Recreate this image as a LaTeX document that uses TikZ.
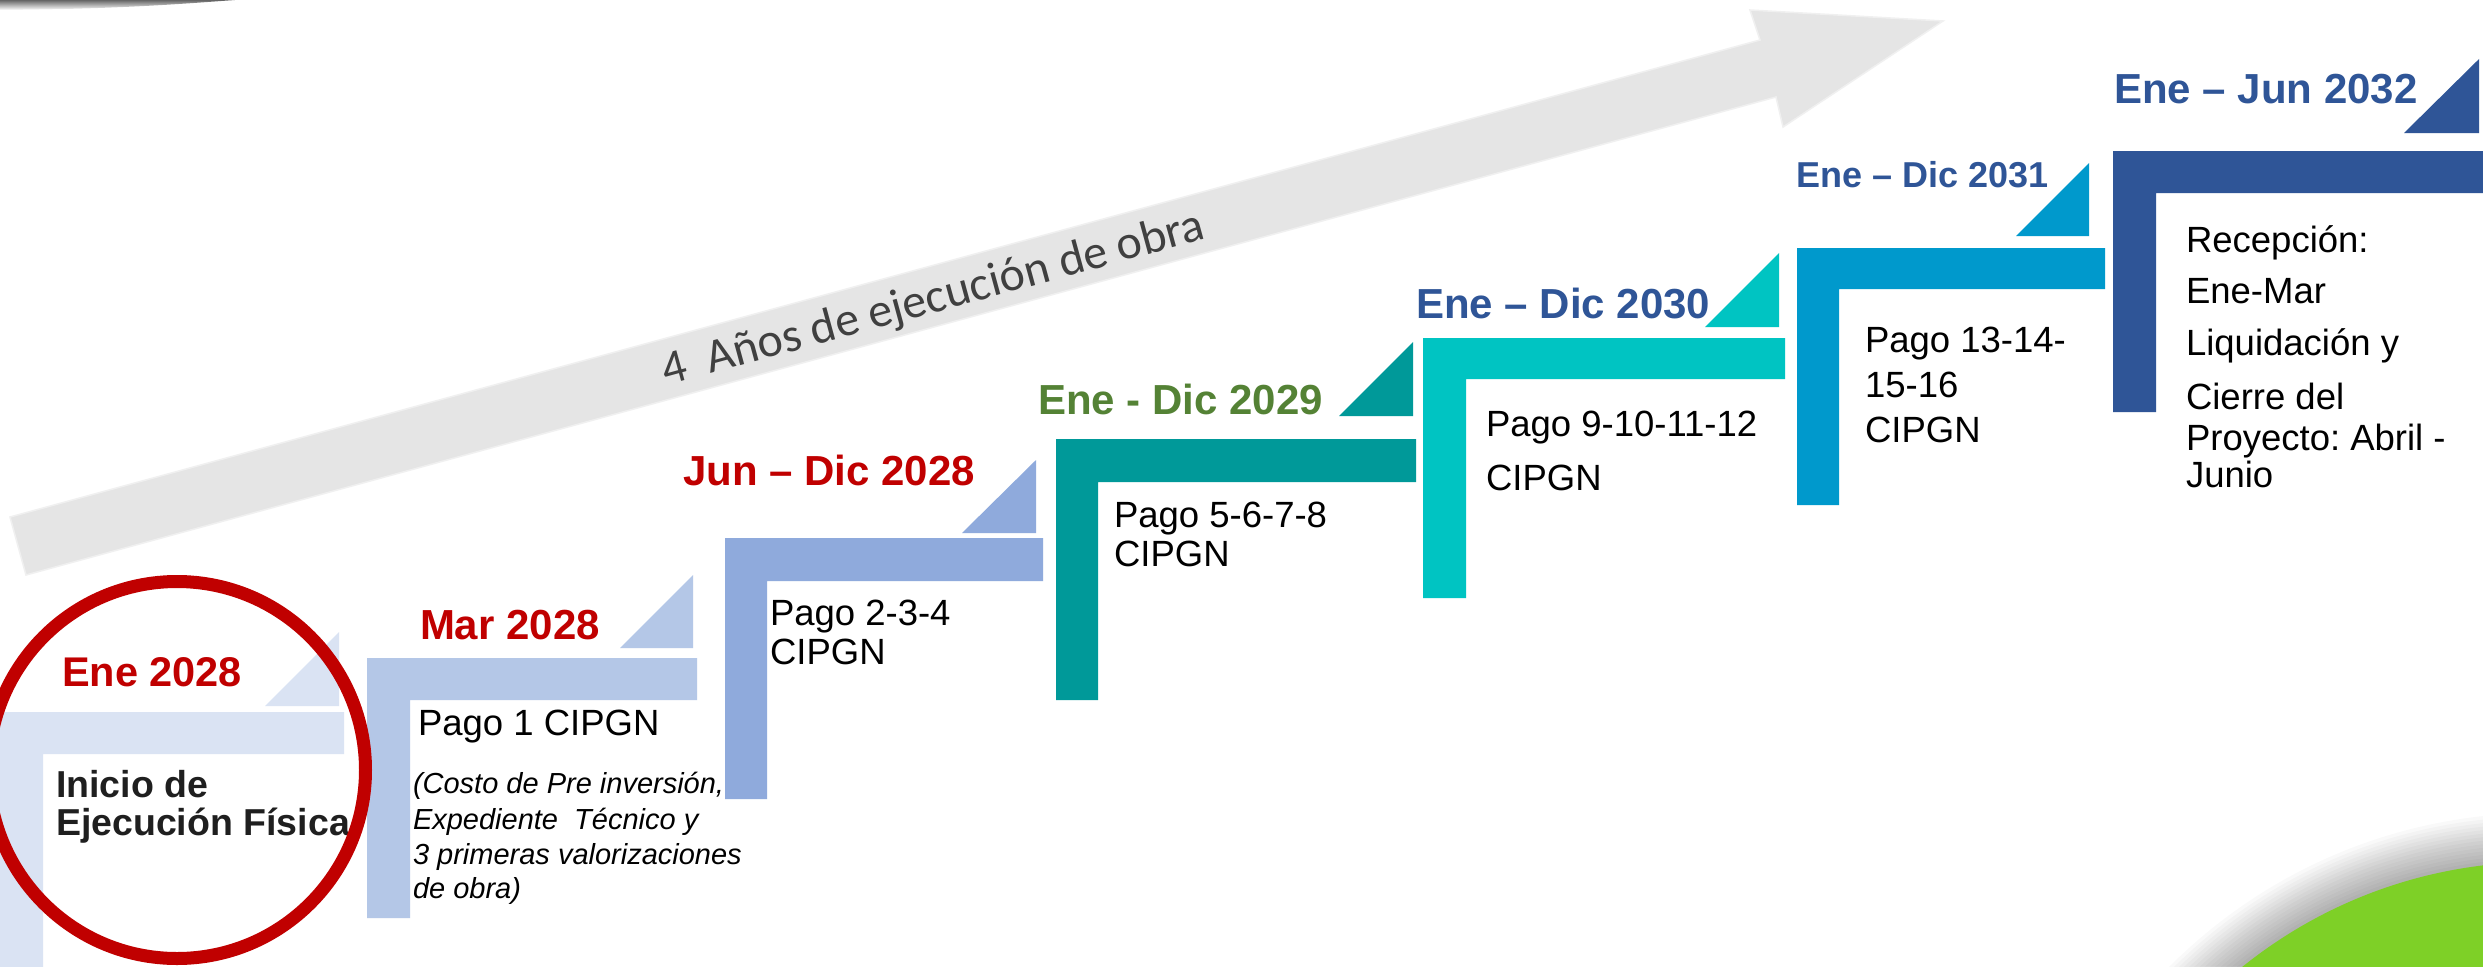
\documentclass[tikz,border=0pt]{standalone}
\usepackage{fontspec}
\setmainfont{Liberation Sans}
\newfontfamily\carl{Carlito}
\frenchspacing
\definecolor{sa}{RGB}{218,227,243}
\definecolor{sb}{RGB}{180,199,231}
\definecolor{sc}{RGB}{143,170,220}
\definecolor{sd}{RGB}{0,153,153}
\definecolor{se}{RGB}{0,196,194}
\definecolor{sf}{RGB}{0,153,204}
\definecolor{sg}{RGB}{47,85,151}
\definecolor{redd}{RGB}{192,0,0}
\definecolor{grn}{RGB}{84,130,53}
\definecolor{arrowgray}{RGB}{229,229,229}
\definecolor{lime}{RGB}{126,208,39}
\tikzset{
  date/.style={anchor=base west, inner sep=0pt, outer sep=0pt, font=\bfseries\fontsize{42}{48}\selectfont},
  txt/.style={anchor=base west, inner sep=0pt, outer sep=0pt, font=\fontsize{36.5}{40}\selectfont},
  note/.style={anchor=base west, inner sep=0pt, outer sep=0pt, font=\itshape\fontsize{29}{34}\selectfont},
  big/.style={anchor=base west, inner sep=0pt, outer sep=0pt, font=\bfseries\fontsize{37.5}{40}\selectfont},
}
\begin{document}
\begin{tikzpicture}[x=1pt,y=-1pt]
\useasboundingbox (0,0) rectangle (2483,966);
\clip (0,0) rectangle (2483,966);
\fill[white] (0,0) rectangle (2483,966);
% top-left shadow
\shade[top color=black!60, bottom color=white] (0,0) -- (235,0) .. controls (180,4) and (120,9) .. (0,10) -- cycle;
% green circle with soft shadow
\foreach \i in {1,...,14}{
  \fill[black, opacity=0.024] (2540,1337) circle[radius={475pt+3.5pt*\i}];
}
\fill[lime] (2540,1337) circle[radius=475pt];
% big gray arrow
\fill[arrowgray, draw=black!6, line width=1.5pt] (10,517) -- (1760,40) -- (1750,10) -- (1943,21) -- (1783,127) -- (1776,97) -- (26,575) -- cycle;
\node[anchor=base west, inner sep=0pt, rotate=15.25, text=black!75, font=\carl\fontsize{48}{52}\selectfont] (arrowtxt) at (666,386) {4\ \ Años de ejecución de obra};
% steps
\fill[sa] (-5,712) -- (344,712) -- (344,754) -- (43,754) -- (43,975) -- (-5,975) -- cycle;
\fill[sa] (265,706) -- (339,706) -- (339,632) -- cycle;
\fill[sb] (367,658) -- (697,658) -- (697,700) -- (410,700) -- (410,918) -- (367,918) -- cycle;
\fill[sb] (620,648) -- (693,648) -- (693,575) -- cycle;
\fill[sc] (725,538) -- (1043,538) -- (1043,581) -- (767,581) -- (767,799) -- (725,799) -- cycle;
\fill[sc] (962,533) -- (1036,533) -- (1036,460) -- cycle;
\fill[sd] (1056,439) -- (1416,439) -- (1416,482) -- (1098,482) -- (1098,700) -- (1056,700) -- cycle;
\fill[sd] (1339,416) -- (1413,416) -- (1413,342) -- cycle;
\fill[se] (1423,338) -- (1785,338) -- (1785,379) -- (1466,379) -- (1466,598) -- (1423,598) -- cycle;
\fill[se] (1705,327) -- (1779,327) -- (1779,253) -- cycle;
\fill[sf] (1797,248) -- (2105,248) -- (2105,289) -- (1839,289) -- (1839,505) -- (1797,505) -- cycle;
\fill[sf] (2016,236) -- (2089,236) -- (2089,163) -- cycle;
\fill[sg] (2113,151) -- (2495,151) -- (2495,193) -- (2156,193) -- (2156,412) -- (2113,412) -- cycle;
\fill[sg] (2404,133) -- (2479,133) -- (2479,59) -- cycle;
% dates
\node[date, text=redd, font=\bfseries\fontsize{41.5}{48}\selectfont] (d1) at (62,686) {Ene 2028};
\node[date, text=redd] (d2) at (420,639) {Mar 2028};
\node[date, text=redd] (d3) at (683,485) {Jun – Dic 2028};
\node[date, text=grn] (d4) at (1038,414) {Ene - Dic 2029};
\node[date, text=sg] (d5) at (1416,318) {Ene – Dic 2030};
\node[date, text=sg, font=\bfseries\fontsize{36}{42}\selectfont] (d6) at (1796,187) {Ene – Dic 2031};
\node[date, text=sg] (d7) at (2114,103) {Ene – Jun 2032};
% step texts
\node[big, text=black!88] (t1a) at (56,797) {Inicio de};
\node[big, text=black!88] (t1b) at (56,835) {Ejecución Física};
\node[txt] (t2) at (418,735) {Pago 1 CIPGN};
\node[note] (n2a) at (413,793) {(Costo de Pre inversión,};
\node[note] (n2b) at (413,829) {Expediente\ \ Técnico y};
\node[note] (n2c) at (413,864) {3 primeras valorizaciones};
\node[note] (n2d) at (413,898) {de obra)};
\node[txt] (t3a) at (770,625) {Pago 2-3-4};
\node[txt] (t3b) at (770,664) {CIPGN};
\node[txt] (t4a) at (1114,527) {Pago 5-6-7-8};
\node[txt] (t4b) at (1114,566) {CIPGN};
\node[txt] (t5a) at (1486,436) {Pago 9-10-11-12};
\node[txt] (t5b) at (1486,490) {CIPGN};
\node[txt] (t6a) at (1865,352) {Pago 13-14-};
\node[txt] (t6b) at (1865,397) {15-16};
\node[txt] (t6c) at (1865,442) {CIPGN};
\node[txt] (t7a) at (2186,252) {Recepción:};
\node[txt] (t7b) at (2186,303) {Ene-Mar};
\node[txt] (t7c) at (2186,355) {Liquidación y};
\node[txt] (t7d) at (2186,409) {Cierre del};
\node[txt] (t7e) at (2186,450) {Proyecto: Abril -};
\node[txt] (t7f) at (2186,487) {Junio};
% red circle
\draw[redd, line width=13pt] (177,770) circle[radius=188.5pt];
\end{tikzpicture}
\end{document}
